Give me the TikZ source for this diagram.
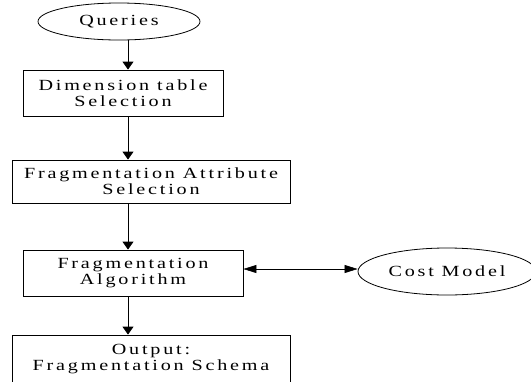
\documentclass[tikz,border=0pt]{standalone}
\usepackage{fontspec}
\setmainfont[FakeStretch=1.3,LetterSpace=18]{Liberation Serif}
\usetikzlibrary{arrows.meta,shapes.geometric}
\tikzset{
  box/.style={draw,line width=0.8pt,inner sep=0pt,align=center,font=\fontsize{15.5}{16}\selectfont},
  oval/.style={draw,ellipse,line width=0.8pt,inner sep=0pt,font=\fontsize{15.5}{16}\selectfont},
}
\begin{document}
\begin{tikzpicture}[x=1pt,y=-1pt,>={Triangle[width=11pt,length=8pt]}]
\clip (0,0) rectangle (531,381);

\node[oval,minimum width=162pt,minimum height=37pt] (query) at (119,21.5) {Queries};
\node[box,minimum width=200pt,minimum height=46pt] (dimsel) at (123,93) {Dimension table\\Selection};
\node[box,minimum width=278pt,minimum height=43pt] (attrsel) at (151,181.5) {Fragmentation Attribute\\Selection};
\node[box,minimum width=220pt,minimum height=46pt] (algo) at (133,273) {Fragmentation\\Algorithm};
\node[box,minimum width=278pt,minimum height=48pt] (output) at (151,359) {Output:\\Fragmentation Schema};
\node[oval,minimum width=178pt,minimum height=47pt] (cost) at (447,271.5) {Cost Model};

\coordinate (spine) at (128,0);
\draw[->,line width=0.8pt] (query.south -| spine) -- (dimsel.north -| spine);
\draw[->,line width=0.8pt] (dimsel.south -| spine) -- (attrsel.north -| spine);
\draw[->,line width=0.8pt] (attrsel.south -| spine) -- (algo.north -| spine);
\draw[->,line width=0.8pt] (algo.south -| spine) -- (output.north -| spine);

\draw[{Triangle[width=8pt,length=13pt]}-{Triangle[width=8pt,length=13pt]},line width=0.6pt]
  (algo.east |- 0,269) -- (cost.west |- 0,269);
\end{tikzpicture}
\end{document}
